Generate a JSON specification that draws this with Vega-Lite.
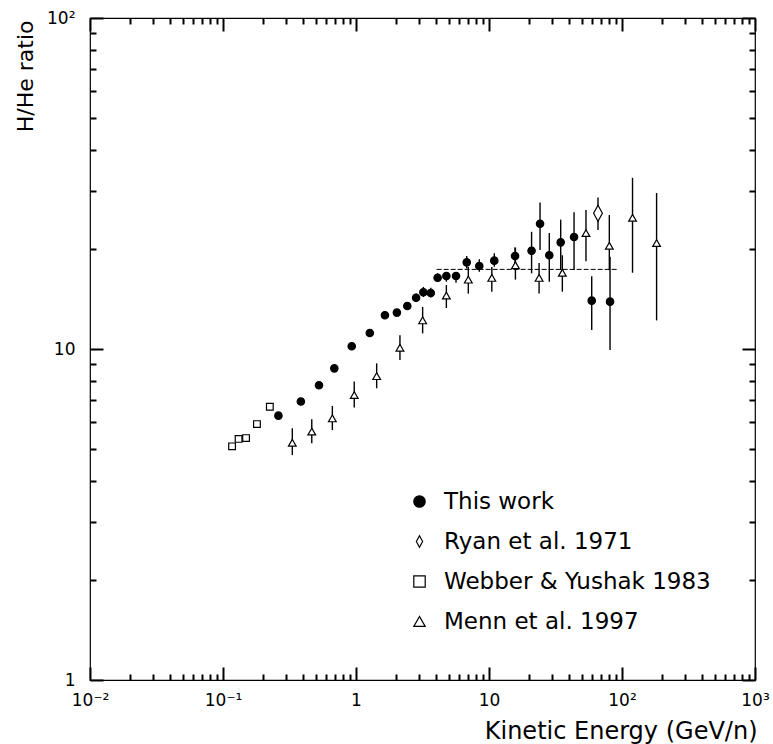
{
  "$schema": "https://vega.github.io/schema/vega-lite/v6.json",
  "width": 665,
  "height": 662,
  "autosize": "none",
  "padding": {"left": 90, "top": 18, "right": 18, "bottom": 64},
  "background": "white",
  "config": {
    "view": {"stroke": "black", "strokeWidth": 1.2, "fill": "transparent"},
    "font": "DejaVu Sans",
    "axis": {"domain": false, "grid": false, "labelColor": "black", "titleColor": "black"},
    "legend": {"labelFontSize": 23, "labelColor": "black", "labelOffset": 13, "labelLimit": 0, "symbolSize": 130, "symbolStrokeWidth": 1.2, "rowPadding": 16}
  },
  "datasets": {
    "flat": [{"e": 4.04, "r": 17.4}, {"e": 91.2, "r": 17.4}],
    "pts": [
      {"s": "This work", "e": 0.261, "r": 6.29},
      {"s": "This work", "e": 0.385, "r": 6.94},
      {"s": "This work", "e": 0.527, "r": 7.77},
      {"s": "This work", "e": 0.687, "r": 8.74},
      {"s": "This work", "e": 0.929, "r": 10.19},
      {"s": "This work", "e": 1.27, "r": 11.18},
      {"s": "This work", "e": 1.65, "r": 12.65},
      {"s": "This work", "e": 2.03, "r": 12.88},
      {"s": "This work", "e": 2.43, "r": 13.49},
      {"s": "This work", "e": 2.83, "r": 14.29, "lo": 13.87, "hi": 14.7},
      {"s": "This work", "e": 3.21, "r": 14.84, "lo": 14.36, "hi": 15.4},
      {"s": "This work", "e": 3.65, "r": 14.77, "lo": 14.3, "hi": 15.3},
      {"s": "This work", "e": 4.11, "r": 16.42, "lo": 15.97, "hi": 16.93},
      {"s": "This work", "e": 4.78, "r": 16.62, "lo": 15.97, "hi": 17.0},
      {"s": "This work", "e": 5.65, "r": 16.62, "lo": 15.86, "hi": 17.1},
      {"s": "This work", "e": 6.8, "r": 18.27, "lo": 17.5, "hi": 19.1},
      {"s": "This work", "e": 8.45, "r": 17.81, "lo": 17.12, "hi": 18.66},
      {"s": "This work", "e": 10.96, "r": 18.49, "lo": 17.73, "hi": 19.46},
      {"s": "This work", "e": 15.7, "r": 19.1, "lo": 17.33, "hi": 20.3},
      {"s": "This work", "e": 20.9, "r": 19.8, "lo": 16.93, "hi": 22.6},
      {"s": "This work", "e": 24.2, "r": 23.9, "lo": 19.9, "hi": 27.7},
      {"s": "This work", "e": 28.4, "r": 19.2, "lo": 15.97, "hi": 22.4},
      {"s": "This work", "e": 34.6, "r": 21.0, "lo": 17.33, "hi": 24.6},
      {"s": "This work", "e": 43.6, "r": 21.8, "lo": 17.33, "hi": 25.9},
      {"s": "This work", "e": 59.2, "r": 14.0, "lo": 11.42, "hi": 16.6},
      {"s": "This work", "e": 81.3, "r": 13.9, "lo": 9.93, "hi": 19.0},
      {"s": "Ryan et al. 1971", "e": 66.0, "r": 25.7, "lo": 22.9, "hi": 28.7},
      {"s": "Webber & Yushak 1983", "e": 0.117, "r": 5.08},
      {"s": "Webber & Yushak 1983", "e": 0.131, "r": 5.35},
      {"s": "Webber & Yushak 1983", "e": 0.149, "r": 5.38},
      {"s": "Webber & Yushak 1983", "e": 0.18, "r": 5.93},
      {"s": "Webber & Yushak 1983", "e": 0.225, "r": 6.69},
      {"s": "Menn et al. 1997", "e": 0.332, "r": 5.21, "lo": 4.78, "hi": 5.76},
      {"s": "Menn et al. 1997", "e": 0.465, "r": 5.63, "lo": 5.19, "hi": 6.13},
      {"s": "Menn et al. 1997", "e": 0.664, "r": 6.17, "lo": 5.69, "hi": 6.73},
      {"s": "Menn et al. 1997", "e": 0.97, "r": 7.26, "lo": 6.66, "hi": 7.97},
      {"s": "Menn et al. 1997", "e": 1.43, "r": 8.28, "lo": 7.61, "hi": 9.05},
      {"s": "Menn et al. 1997", "e": 2.14, "r": 10.09, "lo": 9.26, "hi": 11.0},
      {"s": "Menn et al. 1997", "e": 3.17, "r": 12.2, "lo": 11.15, "hi": 13.4},
      {"s": "Menn et al. 1997", "e": 4.78, "r": 14.5, "lo": 13.3, "hi": 15.6},
      {"s": "Menn et al. 1997", "e": 6.99, "r": 16.2, "lo": 14.7, "hi": 17.7},
      {"s": "Menn et al. 1997", "e": 10.5, "r": 16.4, "lo": 14.9, "hi": 17.7},
      {"s": "Menn et al. 1997", "e": 15.8, "r": 17.9, "lo": 16.2, "hi": 20.2},
      {"s": "Menn et al. 1997", "e": 23.8, "r": 16.4, "lo": 14.7, "hi": 18.2},
      {"s": "Menn et al. 1997", "e": 35.6, "r": 17.0, "lo": 14.9, "hi": 19.2},
      {"s": "Menn et al. 1997", "e": 53.6, "r": 22.4, "lo": 18.4, "hi": 26.3},
      {"s": "Menn et al. 1997", "e": 80.3, "r": 20.5, "lo": 17.3, "hi": 25.4},
      {"s": "Menn et al. 1997", "e": 120, "r": 24.9, "lo": 17.0, "hi": 32.9},
      {"s": "Menn et al. 1997", "e": 182, "r": 20.9, "lo": 12.2, "hi": 29.6}
    ]
  },
  "layer": [
    {
      "data": {"name": "flat"},
      "mark": {"type": "line", "color": "black", "strokeWidth": 1, "strokeDash": [5, 2]},
      "encoding": {
        "x": {
          "field": "e", "type": "quantitative",
          "scale": {"type": "log", "domain": [0.01, 1000], "nice": false},
          "axis": {
            "orient": "bottom", "offset": -13, "zindex": 2,
            "values": [0.01, 0.1, 1, 10, 100, 1000],
            "labelExpr": "datum.value == 0.01 ? '10⁻²' : datum.value == 0.1 ? '10⁻¹' : datum.value == 1 ? '1' : datum.value == 10 ? '10' : datum.value == 100 ? '10²' : '10³'",
            "tickSize": 13, "tickColor": "black", "tickWidth": 2,
            "labelFontSize": 17, "labelPadding": 12,
            "labelOverlap": false, "labelFlush": false, "labelBound": false,
            "title": "Kinetic Energy (GeV/n)", "titleFontSize": 24, "titleFontWeight": "normal",
            "titleAnchor": "end", "titleAlign": "right",
            "titleX": 667, "titleY": 71, "titleBaseline": "alphabetic"
          }
        },
        "y": {
          "field": "r", "type": "quantitative",
          "scale": {"type": "log", "domain": [1, 100], "nice": false},
          "axis": {
            "orient": "left", "offset": -13, "zindex": 2,
            "values": [1, 10, 100],
            "labelExpr": "datum.value == 1 ? '1' : datum.value == 10 ? '10' : '10²'",
            "tickSize": 13, "tickColor": "black", "tickWidth": 2,
            "labelFontSize": 17, "labelPadding": 15,
            "labelOverlap": false, "labelFlush": false, "labelBound": false,
            "title": "H/He ratio", "titleFontSize": 22, "titleFontWeight": "normal",
            "titleAnchor": "end", "titleAlign": "right",
            "titleAngle": -90, "titleX": -71, "titleY": 2, "titleBaseline": "alphabetic"
          }
        }
      }
    },
    {
      "data": {"name": "pts"},
      "transform": [{"filter": "isValid(datum.lo)"}],
      "mark": {"type": "rule", "color": "black", "strokeWidth": 1.4},
      "encoding": {
        "x": {
          "field": "e", "type": "quantitative",
          "axis": {
            "orient": "bottom", "offset": -6, "zindex": 2,
            "values": [0.02,0.03,0.04,0.05,0.06,0.07,0.08,0.09,0.2,0.3,0.4,0.5,0.6,0.7,0.8,0.9,2,3,4,5,6,7,8,9,20,30,40,50,60,70,80,90,200,300,400,500,600,700,800,900],
            "tickSize": 6, "tickColor": "black", "tickWidth": 2, "labels": false, "title": null
          }
        },
        "y": {
          "field": "lo", "type": "quantitative",
          "axis": {
            "orient": "left", "offset": -6, "zindex": 2,
            "values": [2,3,4,5,6,7,8,9,20,30,40,50,60,70,80,90],
            "tickSize": 6, "tickColor": "black", "tickWidth": 2, "labels": false, "title": null
          }
        },
        "y2": {"field": "hi"}
      }
    },
    {
      "data": {"name": "pts"},
      "mark": {"type": "point", "opacity": 0},
      "encoding": {
        "x": {
          "field": "e", "type": "quantitative",
          "axis": {"orient": "top", "offset": -13, "zindex": 2, "values": [0.01, 0.1, 1, 10, 100, 1000], "tickSize": 13, "tickColor": "black", "tickWidth": 2, "labels": false, "title": null}
        },
        "y": {
          "field": "r", "type": "quantitative",
          "axis": {"orient": "right", "offset": -13, "zindex": 2, "values": [1, 10, 100], "tickSize": 13, "tickColor": "black", "tickWidth": 2, "labels": false, "title": null}
        }
      }
    },
    {
      "data": {"name": "pts"},
      "mark": {"type": "point", "opacity": 0},
      "encoding": {
        "x": {
          "field": "e", "type": "quantitative",
          "axis": {
            "orient": "top", "offset": -6, "zindex": 2,
            "values": [0.02,0.03,0.04,0.05,0.06,0.07,0.08,0.09,0.2,0.3,0.4,0.5,0.6,0.7,0.8,0.9,2,3,4,5,6,7,8,9,20,30,40,50,60,70,80,90,200,300,400,500,600,700,800,900],
            "tickSize": 6, "tickColor": "black", "tickWidth": 2, "labels": false, "title": null
          }
        },
        "y": {
          "field": "r", "type": "quantitative",
          "axis": {
            "orient": "right", "offset": -6, "zindex": 2,
            "values": [2,3,4,5,6,7,8,9,20,30,40,50,60,70,80,90],
            "tickSize": 6, "tickColor": "black", "tickWidth": 2, "labels": false, "title": null
          }
        }
      }
    },
    {
      "data": {"name": "pts"},
      "mark": {"type": "point", "strokeWidth": 1.2, "opacity": 1, "fillOpacity": 1, "strokeOpacity": 1, "filled": false},
      "encoding": {
        "x": {"field": "e", "type": "quantitative", "axis": null},
        "y": {"field": "r", "type": "quantitative", "axis": null},
        "shape": {
          "field": "s", "type": "nominal", "title": null,
          "scale": {
            "domain": ["This work", "Ryan et al. 1971", "Webber & Yushak 1983", "Menn et al. 1997"],
            "range": ["circle", "M0,-1L0.55,0L0,1L-0.55,0Z", "square", "triangle-up"]
          },
          "legend": {"orient": "none", "legendX": 318, "legendY": 472}
        },
        "fill": {
          "field": "s", "type": "nominal", "title": null,
          "scale": {
            "domain": ["This work", "Ryan et al. 1971", "Webber & Yushak 1983", "Menn et al. 1997"],
            "range": ["black", "white", "white", "white"]
          },
          "legend": {"orient": "none", "legendX": 318, "legendY": 472}
        },
        "stroke": {
          "field": "s", "type": "nominal", "title": null,
          "scale": {
            "domain": ["This work", "Ryan et al. 1971", "Webber & Yushak 1983", "Menn et al. 1997"],
            "range": ["black", "black", "black", "black"]
          },
          "legend": {"orient": "none", "legendX": 318, "legendY": 472}
        },
        "size": {
          "condition": [
            {"test": "datum.s == 'Ryan et al. 1971'", "value": 256},
            {"test": "datum.s == 'Webber & Yushak 1983'", "value": 45},
            {"test": "datum.s == 'Menn et al. 1997'", "value": 60}
          ],
          "value": 55
        }
      }
    }
  ],
  "resolve": {"axis": {"x": "independent", "y": "independent"}}
}
